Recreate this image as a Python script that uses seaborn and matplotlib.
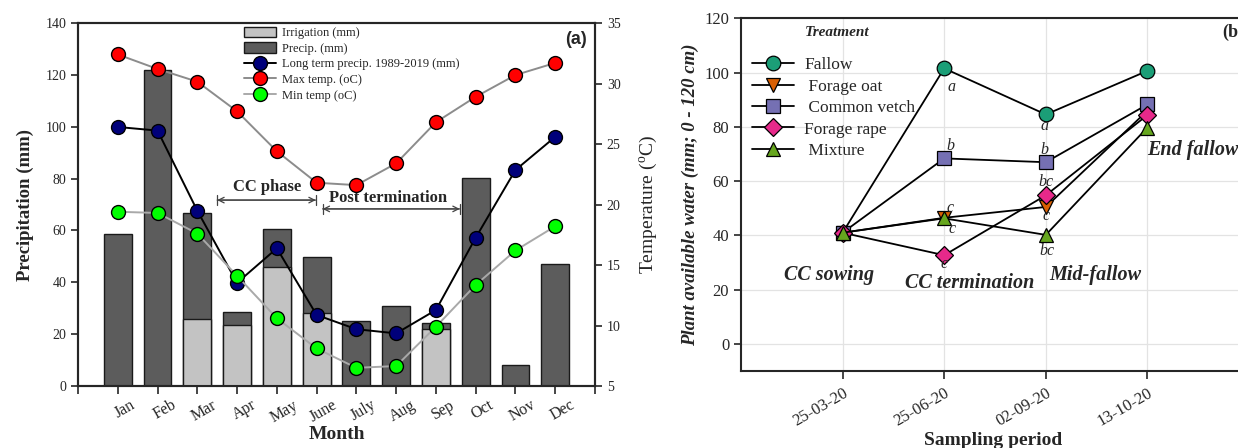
import numpy as np
import pandas as pd
import matplotlib
matplotlib.use("Agg")
import matplotlib.pyplot as plt
import matplotlib.transforms as mtransforms
from matplotlib.patches import Patch
from matplotlib.lines import Line2D
import seaborn as sns

# ---------------- data: panel (a) ----------------
months = ["Jan", "Feb", "Mar", "Apr", "May", "June", "July", "Aug", "Sep", "Oct", "Nov", "Dec"]
precip = [58.5, 122, 66.7, 28.7, 60.5, 49.6, 25.1, 31.0, 24.4, 80.4, 8.0, 47.0]
irrigation = [0, 0, 25.7, 23.5, 46.0, 28.0, 0, 0, 22.0, 0, 0, 0]
longterm = [99.9, 98.5, 67.6, 39.8, 53.1, 27.4, 21.9, 20.3, 29.3, 57.2, 83.3, 96.1]
max_temp = [32.4, 31.2, 30.15, 27.7, 24.4, 21.8, 21.6, 23.4, 26.8, 28.9, 30.7, 31.7]
min_temp = [19.4, 19.3, 17.6, 14.1, 10.6, 8.1, 6.5, 6.65, 9.9, 13.35, 16.2, 18.2]

# ---------------- data: panel (b) ----------------
dates = ["25-03-20", "25-06-20", "02-09-20", "13-10-20"]
fallow = [41.0, 101.6, 84.6, 100.7]
forage_oat = [41.0, 46.5, 50.5, 86.0]
common_vetch = [41.0, 68.4, 67.0, 88.3]
forage_rape = [41.0, 32.7, 54.8, 84.4]
mixture = [41.0, 46.3, 40.2, 79.8]
stage_labels = ["CC sowing", "CC termination", "Mid-fallow", "End fallow"]

sns.set_style("ticks")
plt.rcParams["font.family"] = ["Liberation Serif", "DejaVu Serif"]
plt.rcParams["mathtext.fontset"] = "custom"
plt.rcParams["mathtext.rm"] = "Liberation Serif"

W, H = 1238, 448
fig = plt.figure(figsize=(W / 100, H / 100), dpi=100)

def box(l, t, r, b):
    return [l / W, 1 - b / H, (r - l) / W, (b - t) / H]

# =============== panel (a) ===============
ax = fig.add_axes(box(78, 23, 595, 386))
dfa = pd.DataFrame({"month": months, "precip": precip, "irr": irrigation})
sns.barplot(data=dfa, x="month", y="precip", color="#5c5c5c", saturation=1,
            edgecolor="#1a1a1a", linewidth=1.0, width=0.7, errorbar=None, ax=ax, zorder=2)
sns.barplot(data=dfa, x="month", y="irr", color="#c3c3c3", saturation=1,
            edgecolor="#1a1a1a", linewidth=1.0, width=0.7, errorbar=None, ax=ax, zorder=3)
pos = np.arange(len(months))
sns.lineplot(x=pos, y=longterm, ax=ax, color="black", linewidth=1.4, marker="o",
             markersize=10, markerfacecolor="#00007a", markeredgecolor="black",
             markeredgewidth=1.0, zorder=5)
ax.set_xlim(-1, 12)
ax.set_ylim(0, 140)
ax.set_yticks(range(0, 141, 20))
ax.set_xticks(range(-1, 13))
ax.tick_params(axis="y", labelsize=10, length=5, width=1.2)
ax.tick_params(axis="x", length=6, width=1.2, pad=2)
ax.set_xticklabels([""] + months + [""], rotation=30, fontsize=11.5)
ax.set_xlabel("Month", fontsize=14, fontweight="bold", labelpad=0)
ax.set_ylabel("Precipitation (mm)", fontsize=13.5, fontweight="bold", labelpad=8)
for s in ax.spines.values():
    s.set_linewidth(1.5)

ax2 = ax.twinx()
sns.lineplot(x=pos, y=max_temp, ax=ax2, color="#8c8c8c", linewidth=1.4, marker="o",
             markersize=10, markerfacecolor="#ff0000", markeredgecolor="black",
             markeredgewidth=1.0, zorder=5)
sns.lineplot(x=pos, y=min_temp, ax=ax2, color="#a9a9a9", linewidth=1.4, marker="o",
             markersize=10, markerfacecolor="#00ff00", markeredgecolor="black",
             markeredgewidth=1.0, zorder=5)
ax2.set_ylim(5, 35)
ax2.set_yticks(range(5, 36, 5))
ax2.tick_params(axis="y", labelsize=10, length=5, width=1.2)
ax2.set_ylabel("Temperature ($^{\\mathrm{o}}$C)", fontsize=14, labelpad=12)
for s in ax2.spines.values():
    s.set_linewidth(1.5)

# annotations (period arrows)
def period_arrow(x0, x1, y):
    ax.annotate("", xy=(x0, y), xytext=(x1, y),
                arrowprops=dict(arrowstyle="<->", color="#444444", lw=0.9,
                                shrinkA=0, shrinkB=0))
    ax.annotate("", xy=(x0, y), xytext=(x1, y),
                arrowprops=dict(arrowstyle="|-|,widthA=0.35,widthB=0.35", color="#444444",
                                lw=0.9, shrinkA=0, shrinkB=0))

period_arrow(2.5, 4.98, 71.7)
ax.text(3.76, 76.6, "CC phase", ha="center", va="center", fontsize=12, fontweight="bold")
period_arrow(5.15, 8.6, 68.3)
ax.text(6.8, 72.6, "Post termination", ha="center", va="center", fontsize=12, fontweight="bold")
ax.text(0.985, 0.955, "(a)", transform=ax.transAxes, ha="right", va="center",
        fontsize=13, fontweight="bold", family="Liberation Sans")

handles_a = [
    Patch(facecolor="#c3c3c3", edgecolor="#1a1a1a", label="Irrigation (mm)"),
    Patch(facecolor="#5c5c5c", edgecolor="#1a1a1a", label="Precip. (mm)"),
    Line2D([], [], color="black", lw=1.4, marker="o", ms=10, mfc="#00007a", mec="black",
           label="Long term precip. 1989-2019 (mm)"),
    Line2D([], [], color="#8c8c8c", lw=1.4, marker="o", ms=10, mfc="#ff0000", mec="black",
           label="Max temp. (oC)"),
    Line2D([], [], color="#a9a9a9", lw=1.4, marker="o", ms=10, mfc="#00ff00", mec="black",
           label="Min temp (oC)"),
]
ax2.legend(handles=handles_a, loc="upper left", bbox_to_anchor=(0.322, 0.99),
           frameon=False, fontsize=9, handlelength=2.5, handleheight=0.9,
           labelspacing=0.25, borderpad=0, borderaxespad=0, handletextpad=0.5)

# =============== panel (b) ===============
bx = fig.add_axes(box(741, 18.5, 1246, 371))
xb = np.arange(len(dates))
series = [
    ("Fallow", fallow, "o", "#1b9e77", 10.5),
    (" Forage oat", forage_oat, "v", "#d95f02", 10.5),
    (" Common vetch", common_vetch, "s", "#7570b3", 9.5),
    ("Forage rape", forage_rape, "D", "#e7298a", 9),
    (" Mixture", mixture, "^", "#66a61e", 10.5),
]
for name, vals, mk, col, ms in series:
    sns.lineplot(x=xb, y=vals, ax=bx, color="black", linewidth=1.3, marker=mk,
                 markersize=ms, markerfacecolor=col, markeredgecolor="black",
                 markeredgewidth=0.9, label=name, zorder=4)
bx.set_xlim(-1, 3.97)
bx.set_ylim(-10, 120)
bx.set_yticks(range(0, 121, 20))
bx.set_xticks(xb)
bx.tick_params(axis="y", labelsize=12, length=5, width=1.2)
bx.tick_params(axis="x", length=6, width=1.2, pad=4)
bx.set_xticklabels(dates, rotation=30, ha="right", rotation_mode="anchor", fontsize=12)
bx.grid(True, color="#e3e3e3", linewidth=0.9, zorder=0)
bx.set_axisbelow(True)
for s in bx.spines.values():
    s.set_linewidth(1.5)
bx.set_xlabel("Sampling period", fontsize=14, fontweight="bold", labelpad=2)
bx.set_ylabel("Plant available water (mm; 0 - 120 cm)", fontsize=13.5,
              fontweight="bold", fontstyle="italic", labelpad=4)

bx.legend(loc="upper left", bbox_to_anchor=(0.022, 0.89), frameon=False, fontsize=12.5,
          handlelength=2.4, labelspacing=0.3, borderpad=0, borderaxespad=0,
          handletextpad=0.6)
bx.text(-0.05, 115, "Treatment", ha="center", va="center", fontsize=11,
        fontweight="bold", fontstyle="italic")
bx.text(3.74, 115, "(b)", ha="left", va="center", fontsize=13, fontweight="bold")

# significance letters
letters = [
    (1, fallow, "a", 7, -19), (1, common_vetch, "b", 6, 12), (1, forage_oat, "c", 6, 10),
    (1, mixture, "c", 8, -11), (1, forage_rape, "c", 0, -9),
    (2, fallow, "a", -1, -12), (2, common_vetch, "b", -1, 12), (2, forage_rape, "bc", 0, 13),
    (2, forage_oat, "c", 0, -9), (2, mixture, "bc", 1, -16),
]
for i, vals, txt, dx, dy in letters:
    bx.annotate(txt, xy=(xb[i], vals[i]), xytext=(dx, dy), textcoords="offset pixels",
                ha="center", va="center", fontsize=11.5, fontstyle="italic", zorder=6)

stage_pos = [(-0.13, 25.5), (1.25, 22.3), (2.49, 25.5), (3.45, 71.5)]
for lab, (sx, sy) in zip(stage_labels, stage_pos):
    bx.text(sx, sy, lab, ha="center", va="center", fontsize=14.5,
            fontweight="bold", fontstyle="italic")

# shift month labels slightly right, as in the reference
shift = mtransforms.ScaledTranslation(7 / 100, 0, fig.dpi_scale_trans)
for lab in ax.get_xticklabels():
    lab.set_transform(lab.get_transform() + shift)

fig.savefig("out.png", dpi=100)
